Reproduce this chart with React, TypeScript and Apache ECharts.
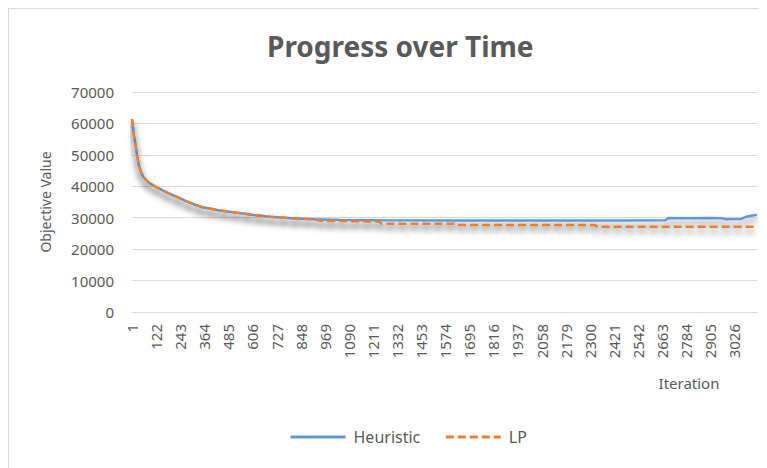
import React, { useEffect, useRef } from "react";
import * as echarts from "echarts";

// Iteration count on the category axis
const ITERATIONS = 3140;
const categories = Array.from({ length: ITERATIONS }, (_, i) => String(i + 1));

// Heuristic objective value at selected iterations
const heuristicIter = [1, 10, 18, 26, 35, 48, 60, 86, 110, 136, 170, 202, 240, 272, 310, 356, 440, 526, 610, 695, 800, 913, 1050, 1250, 1600, 2000, 2400, 2680, 2695, 2790, 2900, 2960, 2985, 3060, 3085, 3110, 3140];
const heuristicVal = [61400, 56500, 53500, 50000, 46800, 44200, 42800, 41100, 40200, 39300, 38200, 37300, 36200, 35300, 34300, 33300, 32300, 31600, 30900, 30300, 29800, 29500, 29300, 29200, 29100, 29100, 29100, 29200, 29900, 29800, 29900, 29800, 29500, 29600, 30300, 30600, 30900];

// LP objective value at selected iterations
const lpIter = [1, 10, 18, 26, 35, 48, 60, 86, 110, 136, 170, 202, 240, 272, 310, 356, 440, 526, 610, 695, 800, 913, 950, 1240, 1255, 1620, 1635, 2325, 2340, 3140];
const lpVal = [61400, 56500, 53500, 50000, 46800, 44200, 42800, 41100, 40200, 39300, 38200, 37300, 36200, 35300, 34300, 33300, 32300, 31600, 30900, 30300, 29800, 29500, 29000, 28800, 28100, 28100, 27650, 27650, 27100, 27100];

const yTicks = { min: 0, max: 70000, interval: 10000 };

const TEXT = "#595959";
const GRID = "#d9d9d9";
const FONT = "Noto Sans";

const pairs = (iters: number[], vals: number[]) => iters.map((it, i) => [it - 1, vals[i]]);

export default function App() {
  const ref = useRef<HTMLDivElement>(null);

  useEffect(() => {
    document.body.style.overflow = "hidden";
    const chart = echarts.init(ref.current!, null, { renderer: "svg" });
    const shadow = { shadowColor: "rgba(0,0,0,0.5)", shadowBlur: 6, shadowOffsetY: 5 };
    chart.setOption({
      animation: false,
      textStyle: { fontFamily: FONT },
      title: {
        text: "Progress over Time",
        left: 253,
        top: 18,
        textStyle: { fontFamily: FONT, fontSize: 28, fontWeight: "bold", color: TEXT },
      },
      legend: {
        left: 275,
        top: 415,
        itemWidth: 55,
        itemHeight: 14,
        itemGap: 24,
        itemStyle: { opacity: 0 },
        lineStyle: { width: 3 },
        textStyle: { fontFamily: FONT, fontSize: 16, color: TEXT, padding: [0, 0, 0, 3] },
        data: ["Heuristic", "LP"],
      },
      grid: { left: 123, right: 10, top: 83, bottom: 156, containLabel: false },
      xAxis: {
        type: "category",
        data: categories,
        boundaryGap: false,
        axisLine: { lineStyle: { color: GRID } },
        axisTick: { show: false },
        axisLabel: {
          interval: 120,
          rotate: 90,
          margin: 12,
          fontFamily: FONT,
          fontSize: 15,
          color: TEXT,
        },
        splitLine: { show: false },
      },
      yAxis: {
        type: "value",
        min: yTicks.min,
        max: yTicks.max,
        interval: yTicks.interval,
        name: "Objective Value",
        nameLocation: "middle",
        nameRotate: 90,
        nameGap: 80,
        nameTextStyle: { fontFamily: FONT, fontSize: 14, color: TEXT },
        axisLine: { show: false },
        axisTick: { show: false },
        axisLabel: {
          margin: 18,
          fontFamily: FONT,
          fontSize: 15,
          color: TEXT,
          formatter: (v: number) => String(v),
        },
        splitLine: { lineStyle: { color: GRID, width: 1 } },
      },
      graphic: [
        {
          type: "text",
          x: 680,
          y: 374,
          style: {
            text: "Iteration",
            fontFamily: FONT,
            fontSize: 15,
            fill: TEXT,
            align: "center",
            verticalAlign: "middle",
          },
        },
      ],
      series: [
        {
          name: "Heuristic",
          type: "line",
          data: pairs(heuristicIter, heuristicVal),
          showSymbol: false,
          symbol: "none",
          color: "#5B9BD5",
          lineStyle: { width: 2.5, color: "#5B9BD5", ...shadow },
        },
        {
          name: "LP",
          type: "line",
          data: pairs(lpIter, lpVal),
          showSymbol: false,
          symbol: "none",
          color: "#ED7D31",
          lineStyle: { width: 2.5, color: "#ED7D31", type: [8, 4], ...shadow },
        },
      ],
    });
    return () => chart.dispose();
  }, []);

  return (
    <div
      style={{
        width: 759,
        height: 460,
        boxSizing: "border-box",
        borderLeft: `1px solid ${GRID}`,
        borderTop: `1px solid ${GRID}`,
      }}
    >
      <div ref={ref} style={{ width: 758, height: 459 }} />
    </div>
  );
}
